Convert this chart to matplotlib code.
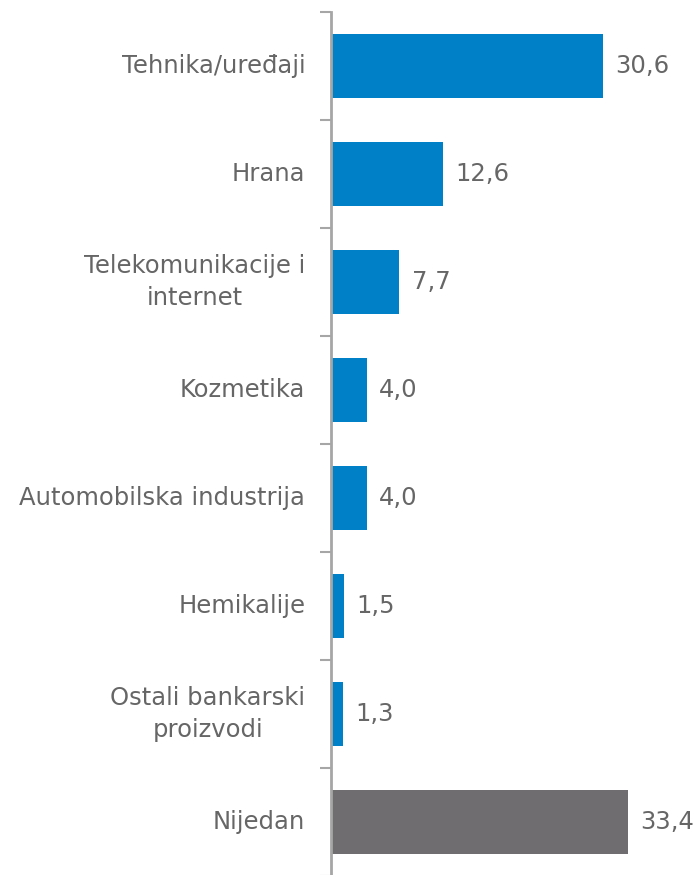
import matplotlib.pyplot as plt
import numpy as np

categories = ["Tehnika/uređaji", "Hrana", "Telekomunikacije i\ninternet", "Kozmetika",
              "Automobilska industrija", "Hemikalije", "Ostali bankarski\nproizvodi", "Nijedan"]
values = [30.6, 12.6, 7.7, 4.0, 4.0, 1.5, 1.3, 33.4]
labels = ["30,6", "12,6", "7,7", "4,0", "4,0", "1,5", "1,3", "33,4"]

blue = "#0080c6"
grey_bar = "#6f6d70"
text_col = "#666666"
axis_col = "#a6a6a6"

colors = [blue] * 7 + [grey_bar]

fig = plt.figure(figsize=(7, 8.75), dpi=100)
ax = fig.add_axes([331 / 700, -1 / 875, 369 / 700, 864 / 875])

y = np.arange(len(values))
ax.barh(y, values, height=0.59, color=colors)
ax.set_ylim(len(values) - 0.5, -0.5)
ax.set_xlim(0, 41.5)

for yi, v, lab in zip(y, values, labels):
    ax.text(v + 1.4, yi, lab, va="center", ha="left", fontsize=17.5, color=text_col,
            family="DejaVu Sans")

for yi, cat in zip(y, categories):
    ax.text(-2.9, yi, cat, va="center", ha="right", ma="center", fontsize=17.5,
            color=text_col, linespacing=1.4, family="DejaVu Sans")

# tick marks between categories
ax.set_yticks(np.arange(len(values) + 1) - 0.5)
ax.set_yticklabels([])
ax.tick_params(axis="y", length=8, width=1.5, color=axis_col)
ax.set_xticks([])

for s in ["top", "right", "bottom"]:
    ax.spines[s].set_visible(False)
ax.spines["left"].set_color(axis_col)
ax.spines["left"].set_linewidth(2)

fig.savefig("out.png", dpi=100)
